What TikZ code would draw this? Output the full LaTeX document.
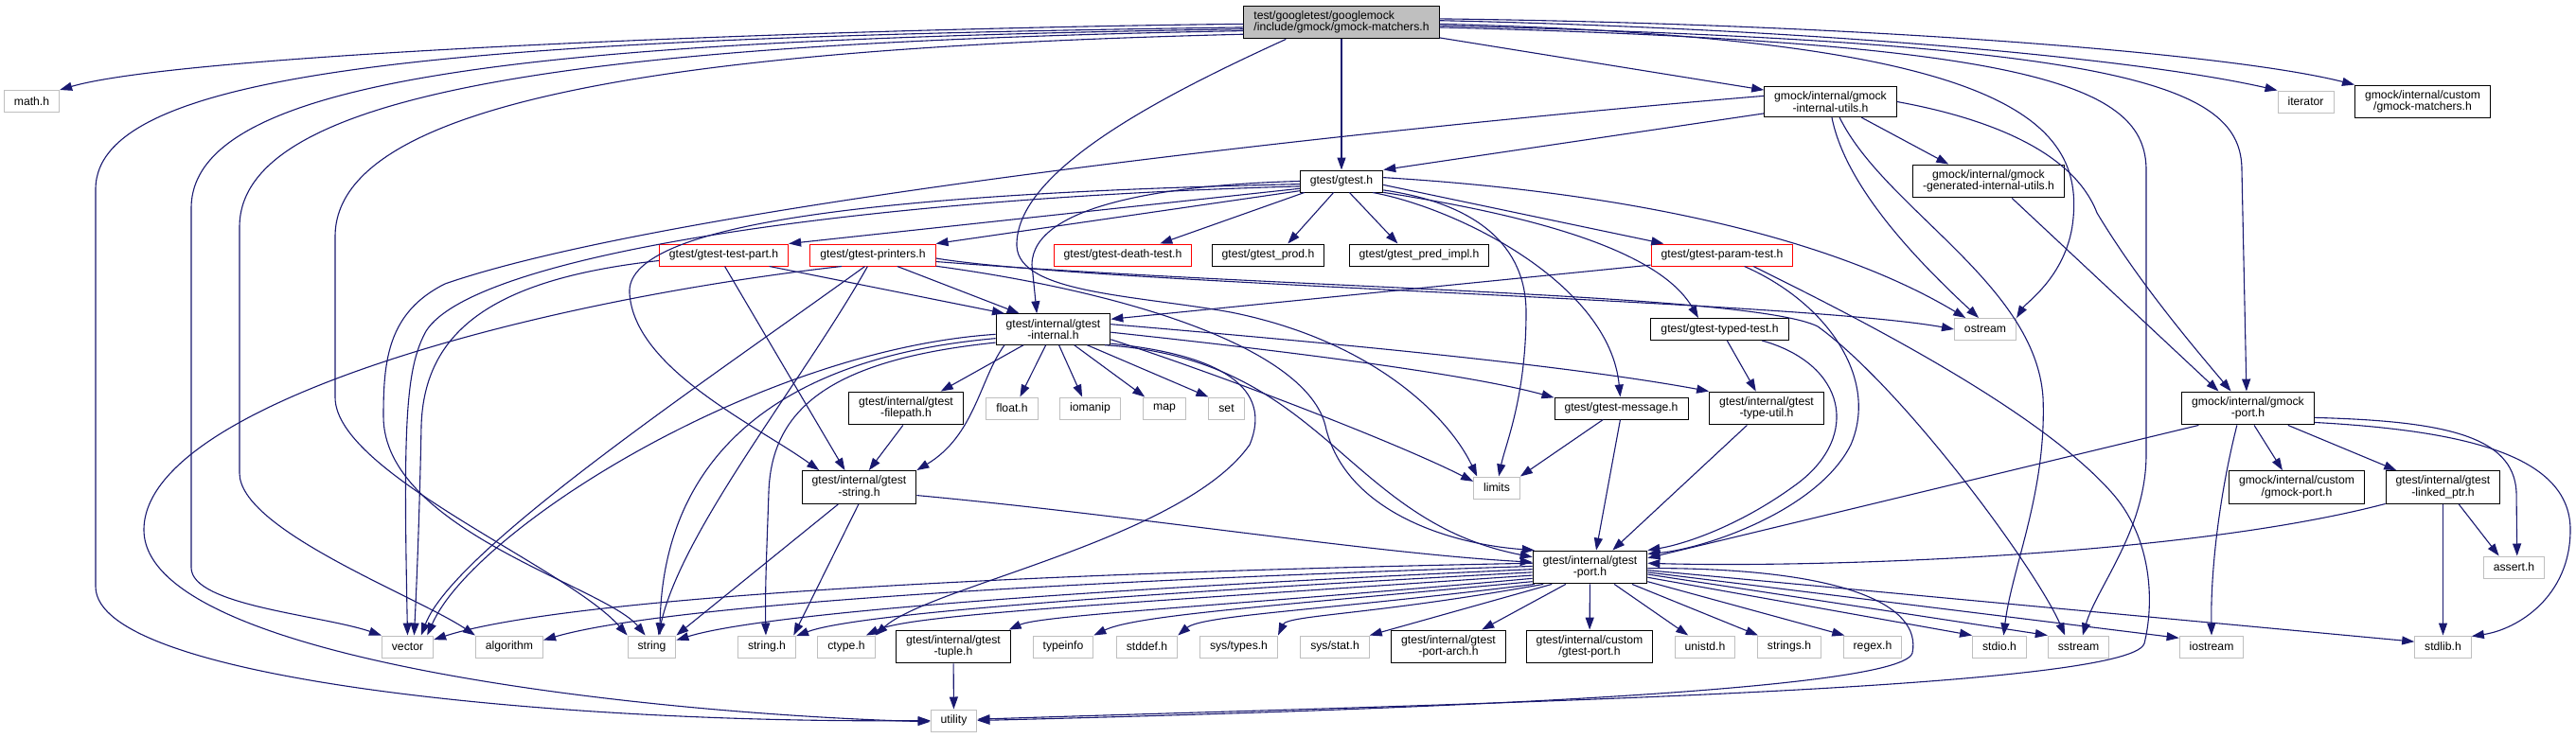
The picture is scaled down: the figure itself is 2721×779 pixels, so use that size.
\documentclass[tikz,border=0pt]{standalone}
\usepackage{fontspec}
\setmainfont{Liberation Sans}
\usepackage{tikz}
\usetikzlibrary{arrows.meta}
\definecolor{edgeblue}{HTML}{191970}
\definecolor{sysgrey}{HTML}{BFBFBF}
\definecolor{rootgrey}{HTML}{BFBFBF}
\definecolor{trunc}{HTML}{FF0000}

\begin{document}
\begin{tikzpicture}[x=1pt, y=-1pt,
  box/.style={draw=black, fill=white, line width=1pt, font=\fontsize{12.2}{12.5}\selectfont,
    align=center, inner xsep=10.5pt, inner ysep=5.5pt, minimum height=23pt},
  sysbox/.style={box, draw=sysgrey},
  redbox/.style={box, draw=trunc},
  rootbox/.style={box, fill=rootgrey, align=left},
  inc/.style={draw=edgeblue, line width=1.1pt, -{Triangle[length=13pt, width=9pt]}}]
  \fill[white] (0,0) rectangle (2721,779);
  \useasboundingbox (0,0) rectangle (2721,779);

  % top rows
  \node[rootbox] (root) at (1417,23.5) {test/googletest/googlemock\\/include/gmock/gmock-matchers.h};
  \node[sysbox] (mathh) at (33.5,107) {math.h};
  \node[box] (iutils) at (1933.5,107.5) {gmock/internal/gmock\\-internal-utils.h};
  \node[sysbox] (iterator) at (2435.5,107.5) {iterator};
  \node[box] (cmatchers) at (2559,107.5) {gmock/internal/custom\\/gmock-matchers.h};
  \node[box] (gtesth) at (1417,191.5) {gtest/gtest.h};
  \node[box] (geniutils) at (2100.5,191.5) {gmock/internal/gmock\\-generated-internal-utils.h};
  \node[redbox] (testpart) at (764.5,269.5) {gtest/gtest-test-part.h};
  \node[redbox] (printers) at (922,269.5) {gtest/gtest-printers.h};
  \node[redbox] (deathtest) at (1186,269.5) {gtest/gtest-death-test.h};
  \node[box] (prod) at (1339.5,269.5) {gtest/gtest\_prod.h};
  \node[box] (predimpl) at (1499,269.5) {gtest/gtest\_pred\_impl.h};
  \node[redbox] (paramtest) at (1819,269.5) {gtest/gtest-param-test.h};
  \node[box] (internal) at (1112.5,348) {gtest/internal/gtest\\-internal.h};
  \node[box] (typedtest) at (1816.5,348) {gtest/gtest-typed-test.h};
  \node[sysbox] (ostream) at (2097,348) {ostream};
  % middle rows
  \node[box] (filepath) at (957,431.5) {gtest/internal/gtest\\-filepath.h};
  \node[sysbox] (floath) at (1069,431.5) {float.h};
  \node[sysbox] (iomanip) at (1151.5,431.5) {iomanip};
  \node[sysbox] (map) at (1230,431.5) {map};
  \node[sysbox] (set) at (1295.5,431.5) {set};
  \node[box] (message) at (1712.5,431.5) {gtest/gtest-message.h};
  \node[box] (typeutil) at (1866,431.5) {gtest/internal/gtest\\-type-util.h};
  \node[box] (gmockport) at (2374.5,431.5) {gmock/internal/gmock\\-port.h};
  \node[box] (gstring) at (907.5,515) {gtest/internal/gtest\\-string.h};
  \node[sysbox] (limits) at (1581,515.5) {limits};
  \node[box] (cgmockport) at (2426,515) {gmock/internal/custom\\/gmock-port.h};
  \node[box] (linkedptr) at (2580.5,515) {gtest/internal/gtest\\-linked\_ptr.h};
  \node[box] (gport) at (1679.5,599.5) {gtest/internal/gtest\\-port.h};
  \node[sysbox] (asserth) at (2655.5,599.5) {assert.h};
  % bottom rows
  \node[sysbox] (vector) at (430.5,683.5) {vector};
  \node[sysbox] (algorithm) at (538,683.5) {algorithm};
  \node[sysbox] (string) at (688.5,683.5) {string};
  \node[sysbox] (stringh) at (810,683.5) {string.h};
  \node[sysbox] (ctypeh) at (894,683.5) {ctype.h};
  \node[box] (tuple) at (1007,683.5) {gtest/internal/gtest\\-tuple.h};
  \node[sysbox] (typeinfo) at (1123,683.5) {typeinfo};
  \node[sysbox] (stddefh) at (1211.5,683.5) {stddef.h};
  \node[sysbox] (systypes) at (1308.5,683.5) {sys/types.h};
  \node[sysbox] (sysstat) at (1410,683.5) {sys/stat.h};
  \node[box] (portarch) at (1530,683.5) {gtest/internal/gtest\\-port-arch.h};
  \node[box] (cgtestport) at (1679,683.5) {gtest/internal/custom\\/gtest-port.h};
  \node[sysbox] (unistdh) at (1801,683.5) {unistd.h};
  \node[sysbox] (stringsh) at (1890,683.5) {strings.h};
  \node[sysbox] (regexh) at (1978,683.5) {regex.h};
  \node[sysbox] (stdioh) at (2112,683.5) {stdio.h};
  \node[sysbox] (sstream) at (2195.5,683.5) {sstream};
  \node[sysbox] (iostream) at (2336,683.5) {iostream};
  \node[sysbox] (stdlibh) at (2580.5,683.5) {stdlib.h};
  \node[sysbox] (utility) at (1007.5,761.5) {utility};

  % includes of gmock-matchers.h
  \draw[inc] (root.181) .. controls (900,30) and (200,55) .. (mathh.north east);
  \draw[inc] (root.183) .. controls (500,40) and (101,70) .. (101,200) -- (101,620) .. controls (101,720) and (600,765) .. (utility.west);
  \draw[inc] (root.184) .. controls (600,42) and (202,75) .. (202,220) -- (202,600) .. controls (202,640) and (340,650) .. (vector.north west);
  \draw[inc] (root.185) .. controls (650,45) and (253,90) .. (253,240) -- (253,500) .. controls (253,560) and (440,630) .. (algorithm.north west);
  \draw[inc] (root.187) .. controls (750,50) and (354,100) .. (354,250) -- (354,420) .. controls (354,500) and (600,600) .. (string.north west);
  \draw[inc] (root) -- (gtesth);
  \draw[inc] (root.-9) -- (iutils.170);
  \draw[inc] (root.1) .. controls (1900,30) and (2250,60) .. (iterator.north west);
  \draw[inc] (root.2) .. controls (1950,25) and (2350,55) .. (cmatchers.north west);
  \draw[inc] (root.-1) .. controls (2100,40) and (2200,120) .. (2190,230) .. controls (2185,290) and (2140,320) .. (ostream.north east);
  \draw[inc] (root.-2) .. controls (2250,45) and (2368,90) .. (2368,180) -- (gmockport.95);
  \draw[inc] (root.-3) .. controls (2150,45) and (2267,90) .. (2267,180) -- (2267,480) .. controls (2267,560) and (2215,620) .. (sstream.70);
  \draw[inc] (root.197) .. controls (1230,100) and (1072,180) .. (1074,260) .. controls (1076,310) and (1200,312) .. (1300,330) .. controls (1450,360) and (1530,440) .. (limits.150);

  % gmock-internal-utils.h and the generated utils
  \draw[inc] (iutils.190) -- (gtesth.north east);
  \draw[inc] (iutils.175) .. controls (1400,140) and (700,220) .. (470,300) .. controls (410,330) and (405,380) .. (405,440) .. controls (405,560) and (640,620) .. (string.120);
  \draw[inc] (iutils.-85) .. controls (1950,200) and (2030,280) .. (ostream.120);
  \draw[inc] (iutils.-60) .. controls (1990,220) and (2150,300) .. (2158,420) .. controls (2162,520) and (2125,600) .. (stdioh.70);
  \draw[inc] (iutils.-27) -- (geniutils.157);
  \draw[inc] (iutils.east) .. controls (2100,125) and (2190,160) .. (2215,225) .. controls (2260,300) and (2320,370) .. (gmockport.135);
  \draw[inc] (geniutils.-36) -- (gmockport.150);

  % gtest.h
  \draw[inc] (gtesth.-125) -- (prod.30);
  \draw[inc] (gtesth.-55) -- (predimpl.152);
  \draw[inc] (gtesth.197) -- (deathtest.17);
  \draw[inc] (gtesth.193) -- (printers.north east);
  \draw[inc] (gtesth.190) -- (testpart.north east);
  \draw[inc] (gtesth.180) .. controls (1240,195) and (1090,215) .. (1090,280) -- (internal.136);
  \draw[inc] (gtesth.184) .. controls (900,205) and (660,240) .. (665,310) .. controls (670,390) and (800,450) .. (gstring.157);
  \draw[inc] (gtesth.187) .. controls (900,210) and (500,270) .. (450,350) .. controls (428,390) and (426,450) .. (vector.north);
  \draw[inc] (gtesth.-12) .. controls (1560,215) and (1612,260) .. (1612,330) .. controls (1612,420) and (1590,470) .. (limits.80);
  \draw[inc] (gtesth.5) .. controls (1750,205) and (1950,260) .. (ostream.150);
  \draw[inc] (gtesth.-20) .. controls (1540,220) and (1700,300) .. (message.95);
  \draw[inc] (gtesth.-5) -- (paramtest.169);
  \draw[inc] (gtesth.-15) .. controls (1600,225) and (1750,260) .. (typedtest.152);

  % test-part and printers
  \draw[inc] (testpart.185) .. controls (520,295) and (448,350) .. (445,450) .. controls (443,550) and (440,620) .. (vector.60);
  \draw[inc] (testpart.-14) -- (internal.162);
  \draw[inc] (testpart.-85) -- (gstring.130);
  \draw[inc] (printers.-3) .. controls (1150,300) and (1900,318) .. (ostream.west);
  \draw[inc] (printers.-6) .. controls (1350,305) and (1850,310) .. (1920,345) .. controls (2010,410) and (2150,600) .. (sstream.140);
  \draw[inc] (printers.-115) .. controls (850,400) and (720,560) .. (string.60);
  \draw[inc] (printers.-125) .. controls (750,400) and (480,580) .. (vector.40);
  \draw[inc] (printers.-160) .. controls (550,320) and (152,430) .. (152,560) .. controls (152,700) and (700,755) .. (utility.183);
  \draw[inc] (printers.-25) -- (internal.155);
  \draw[inc] (printers.-10) .. controls (1200,310) and (1380,370) .. (1400,450) .. controls (1420,540) and (1530,575) .. (gport.163);

  % gtest-internal.h
  \draw[inc] (internal.-152) -- (filepath.26);
  \draw[inc] (internal.-115) -- (floath.55);
  \draw[inc] (internal.-70) -- (iomanip.125);
  \draw[inc] (internal.-37) -- (map.150);
  \draw[inc] (internal.-25) -- (set.north west);
  \draw[inc] (internal.-3) .. controls (1350,370) and (1550,395) .. (message.171);
  \draw[inc] (internal.5) .. controls (1400,362) and (1650,385) .. (typeutil.north west);
  \draw[inc] (internal.-10) .. controls (1300,400) and (1480,470) .. (limits.165);
  \draw[inc] (internal.-14) .. controls (1290,375) and (1345,410) .. (1320,470) .. controls (1250,570) and (980,620) .. (ctypeh.north east);
  \draw[inc] (internal.-17) .. controls (1400,380) and (1420,550) .. (gport.170);
  \draw[inc] (internal.-162) .. controls (1035,400) and (1030,460) .. (gstring.north east);
  \draw[inc] (internal.193) .. controls (880,380) and (815,430) .. (812,520) .. controls (810,580) and (808,620) .. (stringh.95);
  \draw[inc] (internal.189) .. controls (800,380) and (700,500) .. (string.55);
  \draw[inc] (internal.185) .. controls (800,370) and (500,560) .. (vector.30);

  % filepath, string, message, type-util, typed-test, param-test
  \draw[inc] (filepath.-100) -- (gstring.60);
  \draw[inc] (gstring.-141) -- (string.north east);
  \draw[inc] (gstring.-92) -- (stringh.23);
  \draw[inc] (gstring.-8) .. controls (1200,545) and (1450,585) .. (gport.175);
  \draw[inc] (message.-148) -- (limits.north east);
  \draw[inc] (message.-95) -- (gport.70);
  \draw[inc] (typeutil.-139) -- (gport.37);
  \draw[inc] (typedtest.-57) -- (typeutil.122);
  \draw[inc] (typedtest.-15) .. controls (1950,385) and (1965,460) .. (1900,510) .. controls (1840,555) and (1780,575) .. (gport.north east);
  \draw[inc] (paramtest.188) -- (internal.10);
  \draw[inc] (paramtest.-27) .. controls (1930,320) and (1985,400) .. (1955,470) .. controls (1920,540) and (1800,580) .. (gport.13);
  \draw[inc] (paramtest.-20) .. controls (1950,330) and (2150,430) .. (2230,520) .. controls (2275,570) and (2275,640) .. (2265,680) .. controls (2250,730) and (1500,745) .. (utility.3);

  % gmock-port.h and linked_ptr
  \draw[inc] (gmockport.199) -- (gport.9);
  \draw[inc] (gmockport.-123) .. controls (2345,520) and (2335,600) .. (iostream.north);
  \draw[inc] (gmockport.-70) -- (cgmockport.130);
  \draw[inc] (gmockport.-23) -- (linkedptr.160);
  \draw[inc] (gmockport.-8) .. controls (2580,445) and (2655,460) .. (2658,520) -- (asserth.75);
  \draw[inc] (gmockport.-12) .. controls (2600,455) and (2715,480) .. (2715,560) .. controls (2715,630) and (2660,665) .. (stdlibh.20);
  \draw[inc] (linkedptr.196) .. controls (2300,590) and (1900,600) .. (gport.4);
  \draw[inc] (linkedptr.-47) -- (asserth.143);
  \draw[inc] (linkedptr) -- (stdlibh);

  % gtest-port.h
  \draw[inc] (gport.176) .. controls (1100,605) and (600,630) .. (vector.15);
  \draw[inc] (gport.179) .. controls (1100,615) and (700,640) .. (algorithm.11);
  \draw[inc] (gport.182) .. controls (1100,625) and (800,650) .. (string.15);
  \draw[inc] (gport.185) .. controls (1150,630) and (900,650) .. (stringh.20);
  \draw[inc] (gport.188) .. controls (1150,640) and (960,650) .. (ctypeh.30);
  \draw[inc] (gport.191) .. controls (1300,640) and (1100,650) .. (tuple.17);
  \draw[inc] (gport.194) .. controls (1350,640) and (1200,650) .. (typeinfo.north east);
  \draw[inc] (gport.197) .. controls (1400,645) and (1270,650) .. (stddefh.north east);
  \draw[inc] (gport.200) .. controls (1450,650) and (1360,650) .. (systypes.north east);
  \draw[inc] (gport.204) -- (sysstat.north east);
  \draw[inc] (gport.-145) -- (portarch.27);
  \draw[inc] (gport) -- (cgtestport);
  \draw[inc] (gport.-35) -- (unistdh.146);
  \draw[inc] (gport.-22) -- (stringsh.160);
  \draw[inc] (gport.-14) -- (regexh.158);
  \draw[inc] (gport.-10) -- (stdioh.north west);
  \draw[inc] (gport.-7) -- (sstream.north west);
  \draw[inc] (gport.-5) -- (iostream.165);
  \draw[inc] (gport.-3) -- (stdlibh.170);
  \draw[inc] (gport.-1) .. controls (1950,600) and (2030,640) .. (2020,690) .. controls (2010,730) and (1500,750) .. (utility.east);
  \draw[inc] (tuple) -- (utility);
\end{tikzpicture}
\end{document}
